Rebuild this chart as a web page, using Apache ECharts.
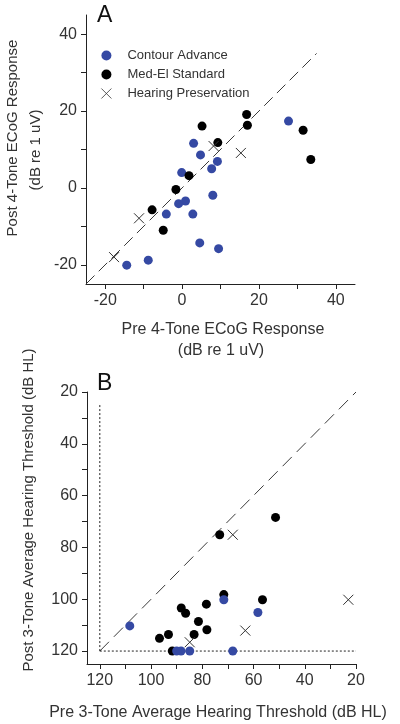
<!DOCTYPE html>
<html>
<head>
<meta charset="utf-8">
<script src="https://cdn.jsdelivr.net/npm/echarts@6/dist/echarts.min.js"></script>
<style>
html,body{margin:0;padding:0;background:#fff;}
#chart{width:400px;height:724px;}
</style>
</head>
<body>
<div id="chart"></div>
<script>
// ---------- Panel A data (Pre, Post ECoG, dB re 1 uV) ----------
const contourA = [[27.7,17.4],[3.0,11.6],[4.8,8.6],[9.2,6.9],[7.7,5.0],[-0.1,4.0],[8.0,-1.9],[0.9,-3.4],[-0.9,-4.1],[-4.1,-6.8],[2.8,-6.8],[4.6,-14.3],[9.5,-15.8],[-8.8,-18.8],[-14.4,-20.1]];
const medelA = [[16.8,19.1],[17.0,16.3],[5.2,16.1],[31.5,15.0],[9.3,11.8],[33.5,7.4],[1.8,3.2],[-1.6,-0.4],[-7.8,-5.7],[-4.9,-11.0]];
const hearingA = [[8.2,10.9],[15.3,9.1],[-11.2,-7.9],[-17.7,-18.0]];
const identityA = [[-25,-25],[35,35]];
const ticksA = [-20,0,20,40];
const minorTicksA = [-20,-10,0,10,20,30,40];

// ---------- Panel B data (Pre, Post 3-tone thresholds, dB HL) ----------
const medelB = [[91.7,120],[51.4,68.4],[73.2,75.1],[56.5,100.2],[71.6,98.2],[78.4,101.9],[88.2,103.4],[86.5,105.4],[81.5,108.6],[78.2,111.8],[83.2,113.6],[93.2,113.6],[96.7,115.1]];
const contourB = [[58.3,105.1],[71.6,100.2],[108.3,110.3],[90.0,120],[88.3,120],[84.9,120],[68.1,120]];
const hearingB = [[68.1,75.1],[23.0,100.2],[63.2,112.1],[84.9,116.6]];
const identityB = [[120,120],[20,20]];
const limitVB = [[120,120],[120,25]];
const limitHB = [[120,120],[20,120]];
const ticksB = [20,40,60,80,100,120];
const minorTicksB = [20,30,40,50,60,70,80,90,100,110,120];

const names = ['Contour Advance','Med-El Standard','Hearing Preservation'];
const BLUE = '#3549a3', BLACK = '#000000', GREY = '#3a3a3a';
const FONT = 'Liberation Sans, Arial, sans-serif';
const XPATH = 'path://M0,0L10,10M10,0L0,10';

function axis(gridIndex, min, max, labels, ticks, inverse){
  return {
    type:'value', gridIndex, min, max, inverse,
    axisLine:{show:true, onZero:false, lineStyle:{color:'#222', width:1}},
    axisTick:{show:true, inside:false, length:5, customValues:ticks, lineStyle:{color:'#222'}},
    axisLabel:{customValues:labels, margin:9, color:'#333', fontSize:16, fontFamily:FONT},
    splitLine:{show:false}
  };
}

const crossStyle = {color:'rgba(0,0,0,0)', borderColor:'#333', borderWidth:1, opacity:1};
function dots(name, xi, data, color){
  return {type:'scatter', name, xAxisIndex:xi, yAxisIndex:xi, data, symbolSize:9, z:5,
          itemStyle:{color, opacity:1}};
}
function crosses(name, xi, data){
  return {type:'scatter', name, xAxisIndex:xi, yAxisIndex:xi, data, symbol:XPATH, symbolSize:10, z:6,
          itemStyle:crossStyle};
}
function refLine(xi, data, color, dash){
  return {type:'line', xAxisIndex:xi, yAxisIndex:xi, data, symbol:'none', silent:true,
          lineStyle:{color, width:1, type:dash}, z:2};
}

const option = {
  backgroundColor:'#fff',
  animation:false,
  grid:[
    {left:86, top:15, width:269, height:269},
    {left:87, top:392, width:269, height:272}
  ],
  xAxis:[axis(0,-25,45,ticksA,minorTicksA,false), axis(1,20,125,ticksB,minorTicksB,true)],
  yAxis:[axis(0,-25,45,ticksA,minorTicksA,false), axis(1,20,125,ticksB,minorTicksB,true)],
  legend:{
    left:96, top:44, orient:'vertical', itemGap:6, itemWidth:24, itemHeight:10,
    data:[
      {name:names[0]},
      {name:names[1]},
      {name:names[2], itemStyle:{color:'rgba(0,0,0,0)', borderColor:'#333', borderWidth:0.8}}
    ],
    textStyle:{fontSize:13, color:'#333', fontFamily:FONT, padding:[0,0,0,4]},
    selectedMode:false
  },
  series:[
    refLine(0, identityA, GREY, [12,6]),
    dots(names[0], 0, contourA, BLUE),
    dots(names[1], 0, medelA, BLACK),
    crosses(names[2], 0, hearingA),

    refLine(1, identityB, GREY, [13,7]),
    refLine(1, limitVB, '#222', [2,2]),
    refLine(1, limitHB, '#222', [2,2]),
    dots(names[1], 1, medelB, BLACK),
    dots(names[0], 1, contourB, BLUE),
    crosses(names[2], 1, hearingB)
  ],
  graphic:[
    {type:'text', left:97, top:4, style:{text:'A', fontSize:23, fill:'#111', fontFamily:FONT}},
    {type:'text', left:97, top:372, style:{text:'B', fontSize:23, fill:'#111', fontFamily:FONT}},
    {type:'text', x:13, y:138, rotation:Math.PI/2, style:{text:'Post 4-Tone ECoG Response', fontSize:15, fill:'#333', fontFamily:FONT, align:'center', verticalAlign:'middle'}},
    {type:'text', x:36, y:150, rotation:Math.PI/2, style:{text:'(dB re 1 uV)', fontSize:15, fill:'#333', fontFamily:FONT, align:'center', verticalAlign:'middle'}},
    {type:'text', x:223, y:330, style:{text:'Pre 4-Tone ECoG Response', fontSize:16, fill:'#333', fontFamily:FONT, align:'center', verticalAlign:'middle'}},
    {type:'text', x:221, y:351, style:{text:'(dB re 1 uV)', fontSize:16, fill:'#333', fontFamily:FONT, align:'center', verticalAlign:'middle'}},
    {type:'text', x:29, y:510, rotation:Math.PI/2, style:{text:'Post 3-Tone Average Hearing Threshold (dB HL)', fontSize:15, fill:'#333', fontFamily:FONT, align:'center', verticalAlign:'middle'}},
    {type:'text', x:218, y:713, style:{text:'Pre 3-Tone Average Hearing Threshold (dB HL)', fontSize:16, fill:'#333', fontFamily:FONT, align:'center', verticalAlign:'middle'}}
  ]
};

const chart = echarts.init(document.getElementById('chart'), null, {renderer:'canvas'});
chart.setOption(option);
</script>
</body>
</html>
